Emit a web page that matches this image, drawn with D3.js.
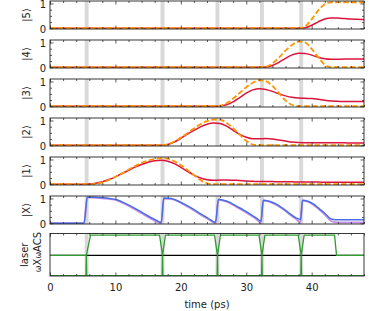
<!DOCTYPE html>
<html>
<head>
<meta charset="utf-8">
<script src="https://cdn.jsdelivr.net/npm/d3@7"></script>
<style>
body { margin: 0; background: #fff; }
text { font-family: "DejaVu Sans", sans-serif; fill: #222; }
</style>
</head>
<body>
<svg id="chart" width="374" height="311"></svg>
<script>
// sample times (ps) for the population curves
const time = [0,1,2,3,4,5,6,7,8,9,10,11,12,13,14,15,16,17,18,19,20,21,22,23,24,
              25,26,27,28,29,30,31,32,33,34,35,36,37,38,39,40,41,42,43,44,45,46,47,48];

// populations, red = simulated, orange = ideal
const red5 = [0,0,0,0,0,0,0,0,0,0,0,0,0,0,0,0,0,0,0,0,0,0,0,0,0,0,0,0,0,0,0,0,0,0,0,0,0,0,
              0,0.02,0.12,0.26,0.37,0.41,0.41,0.39,0.37,0.36,0.35];
const orange5 = [0,0,0,0,0,0,0,0,0,0,0,0,0,0,0,0,0,0,0,0,0,0,0,0,0,0,0,0,0,0,0,0,0,0,0,0,0,0,
              0,0.08,0.36,0.72,0.97,1.05,1.05,1.05,1.05,1.05,1.05];
const red4 = [0,0,0,0,0,0,0,0,0,0,0,0,0,0,0,0,0,0,0,0,0,0,0,0,0,0,0,0,0,0,0,0,
              0,0.01,0.07,0.2,0.36,0.5,0.57,0.56,0.49,0.4,0.34,0.32,0.32,0.33,0.33,0.33,0.33];
const orange4 = [0,0,0,0,0,0,0,0,0,0,0,0,0,0,0,0,0,0,0,0,0,0,0,0,0,0,0,0,0,0,0,0,
              0,0.02,0.15,0.39,0.67,0.9,1.04,1.0,0.74,0.41,0.1,0,0,0,0,0,0];
const red3 = [0,0,0,0,0,0,0,0,0,0,0,0,0,0,0,0,0,0,0,0,0,0,0,0,0,
              0,0.01,0.06,0.18,0.35,0.53,0.66,0.71,0.68,0.6,0.5,0.42,0.36,0.33,0.32,0.31,
              0.28,0.24,0.21,0.2,0.19,0.19,0.19,0.19];
const orange3 = [0,0,0,0,0,0,0,0,0,0,0,0,0,0,0,0,0,0,0,0,0,0,0,0,0,
              0,0.02,0.12,0.31,0.54,0.77,0.95,1.05,1.01,0.82,0.53,0.24,0.05,0,0,0,
              0,0,0,0,0,0,0,0];
const red2 = [0,0,0,0,0,0,0,0,0,0,0,0,0,0,0,0,0,
              0,0.03,0.13,0.28,0.45,0.6,0.74,0.85,0.9,0.88,0.77,0.6,0.44,0.32,0.26,0.26,
              0.27,0.25,0.21,0.17,0.13,0.11,0.1,0.1,0.1,0.1,0.1,0.1,0.1,0.09,0.09,0.09];
const orange2 = [0,0,0,0,0,0,0,0,0,0,0,0,0,0,0,0,0,
              0,0.04,0.15,0.31,0.49,0.68,0.85,0.97,1.04,1.03,0.9,0.69,0.43,0.18,0.03,0,
              0,0,0,0,0,0,0,0,0,0,0,0,0,0,0,0];
const red1 = [0,0,0,0,0,0,0.01,0.04,0.1,0.19,0.3,0.43,0.56,0.69,0.8,0.89,0.95,0.97,0.93,0.83,
              0.68,0.52,0.37,0.25,0.18,0.16,0.17,0.17,0.16,0.15,0.13,0.12,0.11,0.11,0.11,0.1,
              0.1,0.1,0.09,0.09,0.09,0.09,0.08,0.08,0.08,0.08,0.08,0.08,0.08];
const orange1 = [0,0,0,0,0,0,0,0.02,0.08,0.17,0.3,0.44,0.59,0.73,0.86,0.96,1.02,1.05,1.03,0.93,
              0.78,0.58,0.37,0.17,0.04,0,0,0,0,0,0,0,0,0,0,0,0,0,0,0,0,0,0,0,0,0,0,0,0];

// |X> population (blue = simulated, violet = ideal)
const xTime = [0,5.2,5.7,6.5,7.5,8.9,10.2,11.5,12.7,14,15.3,16.3,17.0,
               17.4,18.5,19.5,20.4,21.7,22.9,24.2,25.3,
               25.75,26.5,27.5,28.5,29.6,30.6,31.5,32.25,
               32.6,33.5,34.6,35.7,36.7,37.6,38.3,
               38.6,39.4,40.3,41.1,41.8,42.4,42.9,43.6,44.5,46,48];
const xBlue = [0,0,1.05,1.05,1.04,1.01,0.95,0.8,0.64,0.45,0.25,0.11,0.03,
               1.02,1.0,0.91,0.79,0.6,0.4,0.2,0.04,
               0.97,0.93,0.84,0.69,0.53,0.37,0.22,0.08,
               0.93,0.89,0.77,0.58,0.38,0.22,0.15,
               0.93,0.89,0.77,0.6,0.45,0.3,0.18,0.14,0.14,0.14,0.14];
const xViolet = [0,0,1.04,1.04,1.02,0.98,0.92,0.77,0.6,0.4,0.2,0.06,0,
               1.0,0.98,0.89,0.76,0.57,0.36,0.16,0,
               0.95,0.91,0.81,0.66,0.5,0.33,0.17,0.02,
               0.91,0.87,0.74,0.55,0.34,0.17,0.05,
               0.91,0.87,0.74,0.56,0.4,0.24,0.1,0.04,0.03,0.03,0.03];

// laser frequency: 0 = omega_X, 1 = reference, 2 = omega_ACS
const laserTopTime = [0,5.55,6.2,16.75,17.2,17.65,25.15,25.6,26.05,31.95,32.4,32.85,
                      37.95,38.4,38.85,43.5,43.8,48];
const laserTopVal  = [1,1,2,2,1,2,2,1,2,2,1,2,2,1,2,2,1,1];
const laserBotTime = [0,5.5,5.55,5.6,17.15,17.2,17.25,25.55,25.6,25.65,32.35,32.4,32.45,
                      38.35,38.4,38.45,48];
const laserBotVal  = [0,0,1,0,0,1,0,0,1,0,0,1,0,0,1,0,0];

const pulseTimes = [5.6, 17.2, 25.6, 32.4, 38.4];
const xTicksMajor = [0, 10, 20, 30, 40];
const xTicksMinor = [2,4,6,8,12,14,16,18,22,24,26,28,32,34,36,38,42,44,46,48];

let svg = d3.select('#chart');
let left = 50, right = 364;
let x = d3.scaleLinear().domain([0, 48]).range([left, right]);

let panels = [
    {label: '|5⟩', red: red5, orange: orange5},
    {label: '|4⟩', red: red4, orange: orange4},
    {label: '|3⟩', red: red3, orange: orange3},
    {label: '|2⟩', red: red2, orange: orange2},
    {label: '|1⟩', red: red1, orange: orange1},
    {label: '|X⟩'}
];

function frameAndTicks(g, y, h, yMajor, yMinor){
    let w = right - left;
    g.append('g').attr('transform', 'translate(0,' + h + ')')
        .call(d3.axisBottom(x).tickValues(xTicksMajor).tickSizeInner(-3.5).tickSizeOuter(0).tickFormat(''));
    g.append('g').attr('transform', 'translate(0,' + h + ')')
        .call(d3.axisBottom(x).tickValues(xTicksMinor).tickSizeInner(-2).tickSizeOuter(0).tickFormat(''));
    g.append('g')
        .call(d3.axisTop(x).tickValues(xTicksMajor).tickSizeInner(-3.5).tickSizeOuter(0).tickFormat(''));
    g.append('g')
        .call(d3.axisTop(x).tickValues(xTicksMinor).tickSizeInner(-2).tickSizeOuter(0).tickFormat(''));
    if (yMajor){
        g.append('g').attr('transform', 'translate(' + left + ',0)')
            .call(d3.axisLeft(y).tickValues(yMajor).tickSizeInner(-3.5).tickSizeOuter(0).tickPadding(4).tickFormat(d3.format('d')))
            .selectAll('text').attr('dy', '0.42em');
        g.append('g').attr('transform', 'translate(' + left + ',0)')
            .call(d3.axisLeft(y).tickValues(yMinor).tickSizeInner(-2).tickSizeOuter(0).tickFormat(''));
        g.append('g').attr('transform', 'translate(' + right + ',0)')
            .call(d3.axisRight(y).tickValues(yMajor).tickSizeInner(-3.5).tickSizeOuter(0).tickFormat(''));
        g.append('g').attr('transform', 'translate(' + right + ',0)')
            .call(d3.axisRight(y).tickValues(yMinor).tickSizeInner(-2).tickSizeOuter(0).tickFormat(''));
    }
    g.selectAll('.domain').remove();
    g.selectAll('.tick line').attr('stroke', '#333').attr('stroke-width', 0.8);
    g.selectAll('.tick text').style('font-family', '"DejaVu Sans", sans-serif').style('font-size', '10px').attr('fill', '#222');
    g.append('rect').attr('x', left).attr('y', 0).attr('width', w).attr('height', h)
        .attr('fill', 'none').attr('stroke', '#222').attr('stroke-width', 0.9);
}

function bands(g, h){
    g.selectAll('rect.band').data(pulseTimes).enter().append('rect')
        .attr('class', 'band')
        .attr('x', d => x(d - 0.3))
        .attr('width', d => x(d + 0.3) - x(d - 0.3))
        .attr('y', 0).attr('height', h)
        .attr('fill', '#d9d9d9');
}

let ph = 28;
panels.forEach(function(p, i){
    let top = 1 + 39 * i;
    let g = svg.append('g').attr('transform', 'translate(0,' + top + ')');
    let y = d3.scaleLinear().domain([-0.03, 1.1]).range([ph, 0]);
    svg.append('clipPath').attr('id', 'clip' + i).append('rect')
        .attr('x', left).attr('y', 0).attr('width', right - left).attr('height', ph);
    let plot = g.append('g').attr('clip-path', 'url(#clip' + i + ')');
    bands(plot, ph);
    let line = d3.line().curve(d3.curveMonotoneX).x(d => x(d[0])).y(d => y(d[1]));
    if (p.red){
        plot.append('path').datum(time.map((t, k) => [t, p.red[k]]))
            .attr('d', line).attr('fill', 'none').attr('stroke', '#dc143c').attr('stroke-width', 1.5);
        plot.append('path').datum(time.map((t, k) => [t, p.orange[k]]))
            .attr('d', line).attr('fill', 'none').attr('stroke', '#ff9500').attr('stroke-width', 1.8)
            .attr('stroke-dasharray', '5.5,2.5');
    } else {
        plot.append('path').datum(xTime.map((t, k) => [t, xViolet[k]]))
            .attr('d', line).attr('fill', 'none').attr('stroke', '#c07ee0').attr('stroke-width', 1.8)
            .attr('stroke-opacity', 0.85);
        plot.append('path').datum(xTime.map((t, k) => [t, xBlue[k]]))
            .attr('d', line).attr('fill', 'none').attr('stroke', '#4a6ee6').attr('stroke-width', 1.5);
    }
    frameAndTicks(g, y, ph, [0, 1], [0.25, 0.5, 0.75]);
    g.append('text')
        .attr('transform', 'translate(30,' + (ph / 2) + ') rotate(-90)')
        .attr('text-anchor', 'middle')
        .attr('font-size', '10px')
        .text(p.label);
});

// laser panel
let lTop = 233.5, lh = 42.5;
let lg = svg.append('g').attr('transform', 'translate(0,' + lTop + ')');
let ly = d3.scaleLinear().domain([-0.02, 2.08]).range([lh, 0]);
svg.append('clipPath').attr('id', 'clipL').append('rect')
    .attr('x', left).attr('y', 0).attr('width', right - left).attr('height', lh);
let lplot = lg.append('g').attr('clip-path', 'url(#clipL)');
bands(lplot, lh);
let lline = d3.line().x(d => x(d[0])).y(d => ly(d[1]));
lplot.append('path').datum([[0, 1], [48, 1]])
    .attr('d', lline).attr('fill', 'none').attr('stroke', '#000').attr('stroke-width', 1.3);
lplot.append('path').datum(laserTopTime.map((t, k) => [t, laserTopVal[k]]))
    .attr('d', lline).attr('fill', 'none').attr('stroke', '#2f9a2f').attr('stroke-width', 1.3);
lplot.append('path').datum(laserBotTime.map((t, k) => [t, laserBotVal[k]]))
    .attr('d', lline).attr('fill', 'none').attr('stroke', '#2f9a2f').attr('stroke-width', 1.3);
frameAndTicks(lg, ly, lh, null, null);

lg.append('g').attr('transform', 'translate(0,' + lh + ')')
    .call(d3.axisBottom(x).tickValues(xTicksMajor).tickSize(0).tickPadding(7.5))
    .call(a => a.select('.domain').remove())
    .selectAll('text').style('font-family', '"DejaVu Sans", sans-serif').style('font-size', '10px').attr('fill', '#222');

lg.append('text')
    .attr('transform', 'translate(28,' + (lh / 2) + ') rotate(-90)')
    .attr('text-anchor', 'middle').attr('font-size', '10px')
    .text('laser');
let acs = lg.append('text')
    .attr('transform', 'translate(41,' + ly(1.5) + ') rotate(-90)')
    .attr('text-anchor', 'middle').attr('font-size', '10px');
acs.append('tspan').attr('font-size', '8px').text('ω');
acs.append('tspan').text('ACS');
let wx = lg.append('text')
    .attr('transform', 'translate(41,' + ly(0.5) + ') rotate(-90)')
    .attr('text-anchor', 'middle').attr('font-size', '10px');
wx.append('tspan').attr('font-size', '8px').text('ω');
wx.append('tspan').text('X');

svg.append('text')
    .attr('x', (left + right) / 2).attr('y', 307.5)
    .attr('text-anchor', 'middle').attr('font-size', '10px')
    .text('time (ps)');
</script>
</body>
</html>
